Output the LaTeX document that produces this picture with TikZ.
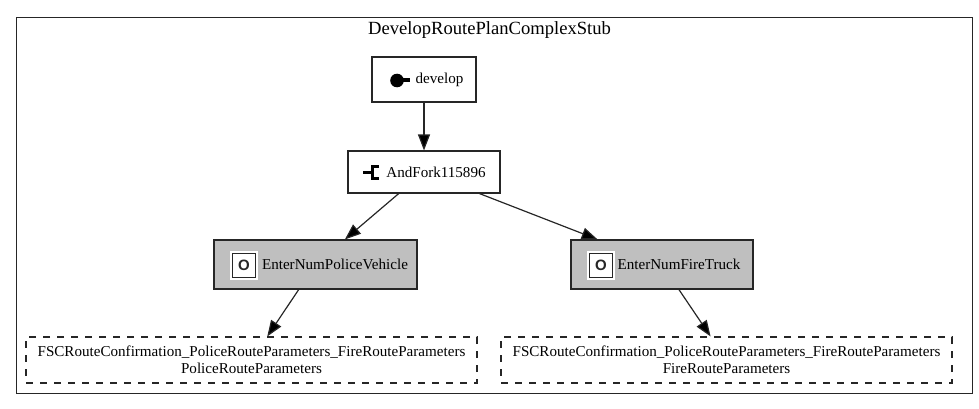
\documentclass[tikz,border=0pt]{standalone}
\usepackage{fontspec}
\setmainfont{Liberation Serif}
\newfontfamily\iconfont[Ligatures=TeX]{Liberation Sans}
\usetikzlibrary{arrows.meta}
\tikzset{
  x=1pt,y=-1pt,
  box/.style={draw=black!85,line width=1.1pt,inner sep=0pt,align=center,font=\fontsize{15.1}{17}\selectfont},
  opbox/.style={box,fill=black!25},
  objbox/.style={box,line width=1.1pt,dashed,dash pattern=on 7pt off 7pt,fill=none},
  edge/.style={draw=black!85,line width=1.2pt,-{Triangle[length=16pt,width=12pt,fill=black]}},
}
\newcommand{\opicon}[2]{%
  \fill[white] (#1,#2) rectangle +(28,29);
  \draw[black!85,line width=1.5pt] (#1+2.5,#2+2.5) rectangle +(23,24);
  \node[font=\iconfont\bfseries\fontsize{15}{15}\selectfont,inner sep=0pt,black!85] at (#1+14,#2+14.5) {O};
}
\begin{document}
\begin{tikzpicture}
\useasboundingbox (0,0) rectangle (979,409);
\node[box,line width=1.3pt,minimum width=956pt,minimum height=376pt,anchor=north west] (frame) at (16,17) {};
\node[font=\fontsize{18.6}{18.6}\selectfont,inner sep=0pt] (title) at (489.5,30) {DevelopRoutePlanComplexStub};
\node[box,minimum width=104pt,minimum height=45pt] (develop) at (424,79.5) {\hspace*{31pt}develop};
\node[box,minimum width=152pt,minimum height=42pt] (fork) at (424,172) {\hspace*{24pt}AndFork115896};
\node[opbox,minimum width=203pt,minimum height=49pt] (police) at (315.5,264.5) {\hspace*{39pt}EnterNumPoliceVehicle};
\node[opbox,minimum width=182pt,minimum height=49pt] (fire) at (662,264.5) {\hspace*{34pt}EnterNumFireTruck};
\node[objbox,minimum width=451pt,minimum height=46pt] (pobj) at (251.5,360) {FSCRouteConfirmation\_PoliceRouteParameters\_FireRouteParameters\\PoliceRouteParameters};
\node[objbox,minimum width=451pt,minimum height=46pt] (fobj) at (726.5,360) {FSCRouteConfirmation\_PoliceRouteParameters\_FireRouteParameters\\FireRouteParameters};
\draw[edge] (develop) -- (fork);
\draw[edge] (fork) -- (police);
\draw[edge] (fork) -- (fire);
\draw[edge] (police) -- (pobj);
\draw[edge] (fire) -- (fobj);
% develop icon
\fill[black] (397,80.5) circle (6.8);
\fill[black] (400,78.5) rectangle (410,82.5);
% fork icon
\draw[black,line width=2.6pt] (363,172.5) -- (372,172.5);
\draw[black,line width=3pt] (379,166.5) -- (372,166.5) -- (372,178.5) -- (379,178.5);
\opicon{230}{251}
\opicon{587}{251}
\end{tikzpicture}
\end{document}
